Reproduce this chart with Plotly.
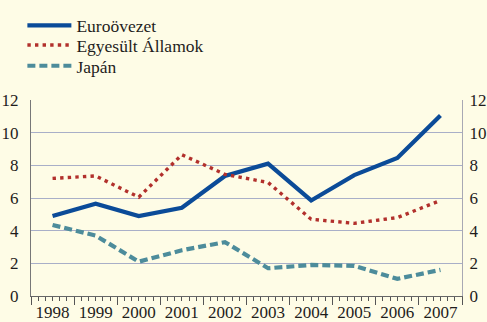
import plotly.graph_objects as go

years = [1998, 1999, 2000, 2001, 2002, 2003, 2004, 2005, 2006, 2007]
year_labels = [str(y) for y in years]
euro = [4.9, 5.65, 4.9, 5.4, 7.35, 8.1, 5.85, 7.4, 8.45, 11.05]
usa = [7.2, 7.35, 6.05, 8.65, 7.45, 6.95, 4.7, 4.45, 4.8, 5.85]
japan = [4.35, 3.7, 2.1, 2.8, 3.3, 1.7, 1.9, 1.85, 1.05, 1.6]
y_ticks = [0, 2, 4, 6, 8, 10, 12]

BG = "#FEFCE6"
FONT = "Liberation Serif"
TXT = "#1E1C1C"
GRID = "#A9AFC8"

fig = go.Figure()
fig.add_trace(go.Scatter(x=years, y=euro, mode="lines", name="Euroövezet",
                         legend="legend",
                         line=dict(color="#0B4B98", width=4.2)))
fig.add_trace(go.Scatter(x=years, y=usa, mode="lines", name="Egyesült Államok",
                         legend="legend2",
                         line=dict(color="#B2302C", width=3.4, dash="3.4px,4.2px")))
fig.add_trace(go.Scatter(x=years, y=japan, mode="lines", name="Japán",
                         legend="legend3",
                         line=dict(color="#4D8C9B", width=4.2, dash="8px,4px")))

x_range = [years[0] - 0.5, years[-1] + 0.5]
boundaries = [y - 0.5 for y in years] + [years[-1] + 0.5]


def legend_at(y):
    # one legend box per series so the rows sit close together
    return dict(x=-0.020, y=y, xanchor="left", yanchor="top",
                bgcolor="rgba(0,0,0,0)", font=dict(family=FONT, size=17.5, color=TXT),
                itemwidth=44)


fig.update_layout(
    template="none",
    width=487, height=322,
    margin=dict(l=31, r=25, t=100, b=26, autoexpand=False),
    paper_bgcolor=BG, plot_bgcolor=BG,
    font=dict(family=FONT, size=17, color=TXT),
    showlegend=True,
    legend=legend_at(1.472),
    legend2=legend_at(1.372),
    legend3=legend_at(1.266),
    xaxis=dict(range=x_range, tickvals=boundaries, showticklabels=False,
               ticks="outside", ticklen=8, tickwidth=1, tickcolor="#555555",
               minor=dict(dtick=1 / 6, tick0=x_range[0], ticks="outside", ticklen=4,
                          tickwidth=1, tickcolor="#555555", showgrid=False),
               showgrid=False, zeroline=False, showline=True, linecolor="#666666",
               linewidth=1, automargin=False),
    xaxis2=dict(range=x_range, overlaying="x", side="bottom", anchor="y",
                tickvals=years, ticktext=year_labels, ticks="", ticklabelstandoff=4,
                showgrid=False, zeroline=False, showline=False, automargin=False,
                tickfont=dict(family=FONT, size=17, color=TXT)),
    yaxis=dict(range=[0, 12], tickvals=y_ticks, ticks="", showgrid=True,
               gridcolor=GRID, gridwidth=1, zeroline=False, showline=True,
               linecolor="#777777", linewidth=1, ticklabelstandoff=8, automargin=False,
               tickfont=dict(family=FONT, size=17, color=TXT)),
    yaxis2=dict(range=[0, 12], tickvals=y_ticks, overlaying="y", side="right",
                anchor="x", ticks="", showgrid=False, zeroline=False,
                showline=True, linecolor="#A8A8B4", linewidth=1, automargin=False,
                ticklabelstandoff=3, tickfont=dict(family=FONT, size=17, color=TXT)),
)
# Empty trace so the secondary axes are drawn.
fig.add_trace(go.Scatter(x=[], y=[], xaxis="x2", yaxis="y2", showlegend=False,
                         hoverinfo="skip"))

fig.write_html("out.html")
